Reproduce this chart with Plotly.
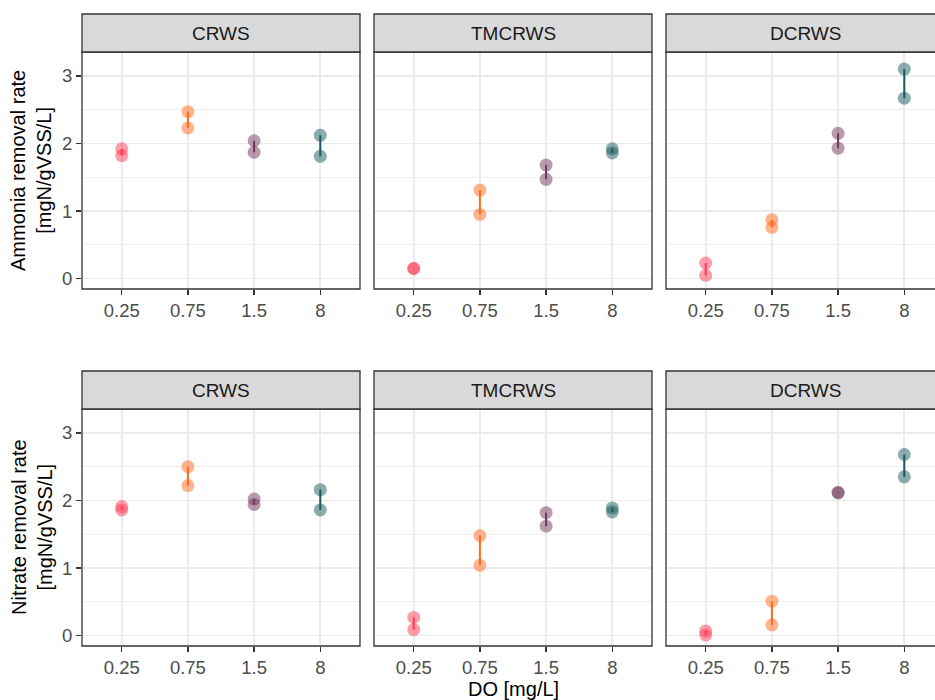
import plotly.graph_objects as go

# ---- data ----
categories = ["0.25", "0.75", "1.5", "8"]
systems = ["CRWS", "TMCRWS", "DCRWS"]

# two replicate values per DO level (upper / lower)
ammonia_a = {
    "CRWS":   [1.92, 2.47, 2.04, 2.12],
    "TMCRWS": [0.15, 1.31, 1.68, 1.92],
    "DCRWS":  [0.23, 0.87, 2.15, 3.10],
}
ammonia_b = {
    "CRWS":   [1.82, 2.23, 1.87, 1.81],
    "TMCRWS": [0.15, 0.95, 1.47, 1.86],
    "DCRWS":  [0.05, 0.76, 1.93, 2.67],
}
nitrate_a = {
    "CRWS":   [1.91, 2.50, 2.02, 2.16],
    "TMCRWS": [0.27, 1.48, 1.82, 1.89],
    "DCRWS":  [0.07, 0.51, 2.12, 2.68],
}
nitrate_b = {
    "CRWS":   [1.86, 2.22, 1.94, 1.86],
    "TMCRWS": [0.09, 1.04, 1.62, 1.83],
    "DCRWS":  [0.01, 0.16, 2.11, 2.35],
}

row_titles = ["Ammonia removal rate<br>[mgN/gVSS/L]", "Nitrate removal rate<br>[mgN/gVSS/L]"]
x_title = "DO [mg/L]"
y_ticks = [0, 1, 2, 3]

colors = ["#FF3A55", "#FF6A1C", "#72385C", "#1A5A5C"]

# ---- layout geometry (pixels) ----
W, H = 935, 700
panel_x = [(82, 360), (374, 652), (666, 944)]
panel_y = [(52, 289), (409, 646)]
strip_h = 38
yrange = [-0.153, 3.353]

def px(x):
    return x / W

def py(y):
    return 1 - y / H

fig = go.Figure()
layout = dict(
    width=W, height=H,
    margin=dict(l=0, r=0, t=0, b=0),
    paper_bgcolor="white", plot_bgcolor="white",
    showlegend=False,
    font=dict(family="Liberation Sans, Arial, sans-serif"),
)
shapes = []
annotations = []

datasets = [(ammonia_a, ammonia_b), (nitrate_a, nitrate_b)]
for r in range(2):
    da, db = datasets[r]
    for c in range(3):
        i = r * 3 + c + 1
        xa = "x" if i == 1 else f"x{i}"
        ya = "y" if i == 1 else f"y{i}"
        sysname = systems[c]
        x0p, x1p = panel_x[c]
        y0p, y1p = panel_y[r]
        full_w = x1p - x0p
        unit = full_w / 4.2
        right_px = min(x1p, W)
        xr = [-0.6, -0.6 + (right_px - x0p) / unit]

        for k, cat in enumerate(categories):
            va = da[sysname][k]
            vb = db[sysname][k]
            fig.add_trace(go.Scatter(
                x=[cat, cat], y=[va, vb], mode="markers",
                marker=dict(size=13, color=colors[k], opacity=0.5, line=dict(width=0)),
                xaxis=xa, yaxis=ya, hoverinfo="skip"))
            fig.add_trace(go.Scatter(
                x=[cat, cat], y=[va, vb], mode="lines",
                line=dict(color=colors[k], width=2),
                xaxis=xa, yaxis=ya, hoverinfo="skip"))

        xkey = "xaxis" if i == 1 else f"xaxis{i}"
        ykey = "yaxis" if i == 1 else f"yaxis{i}"
        layout[xkey] = dict(
            domain=[px(x0p), px(right_px)], anchor=ya, type="category",
            categoryorder="array", categoryarray=categories,
            range=xr, showgrid=True, gridcolor="#EBEBEB", gridwidth=1.6,
            zeroline=False, showline=False,
            ticks="outside", ticklen=5, tickwidth=1.3, tickcolor="#333333",
            tickfont=dict(size=18.5, color="#4D4D4D"),
        )
        layout[ykey] = dict(
            domain=[py(y1p), py(y0p)], anchor=xa, range=yrange,
            tickvals=y_ticks, showgrid=True, gridcolor="#EBEBEB", gridwidth=1.6,
            minor=dict(dtick=0.5, tick0=0, showgrid=True, gridcolor="#EBEBEB", gridwidth=0.8),
            zeroline=False, showline=False,
            ticks="outside" if c == 0 else "", ticklen=5, tickwidth=1.3, tickcolor="#333333",
            showticklabels=(c == 0),
            tickfont=dict(size=18.5, color="#4D4D4D"),
        )
        # panel border
        shapes.append(dict(type="rect", xref="paper", yref="paper",
                           x0=px(x0p), x1=px(x1p), y0=py(y1p), y1=py(y0p),
                           line=dict(color="#333333", width=1.3), fillcolor="rgba(0,0,0,0)",
                           layer="above"))
        # strip
        shapes.append(dict(type="rect", xref="paper", yref="paper",
                           x0=px(x0p), x1=px(x1p), y0=py(y0p), y1=py(y0p - strip_h),
                           line=dict(color="#333333", width=1.3), fillcolor="#D9D9D9",
                           layer="above"))
        annotations.append(dict(text=sysname, xref="paper", yref="paper",
                                x=px((x0p + x1p) / 2), y=py(y0p - strip_h / 2),
                                xanchor="center", yanchor="middle", showarrow=False,
                                font=dict(size=19, color="#1A1A1A")))
    # row y title
    annotations.append(dict(text=row_titles[r], xref="paper", yref="paper",
                            x=px(31.5), y=py(sum(panel_y[r]) / 2), textangle=-90,
                            xanchor="center", yanchor="middle", showarrow=False,
                            font=dict(size=20, color="black")))

annotations.append(dict(text=x_title, xref="paper", yref="paper",
                        x=px(513), y=py(689), xanchor="center", yanchor="middle",
                        showarrow=False, font=dict(size=20, color="black")))

layout["shapes"] = shapes
layout["annotations"] = annotations
fig.update_layout(**layout)
fig.write_html("out.html",
               config={"displayModeBar": False, "staticPlot": True},
               post_script="document.body.style.margin='0';document.body.style.overflow='hidden';")
